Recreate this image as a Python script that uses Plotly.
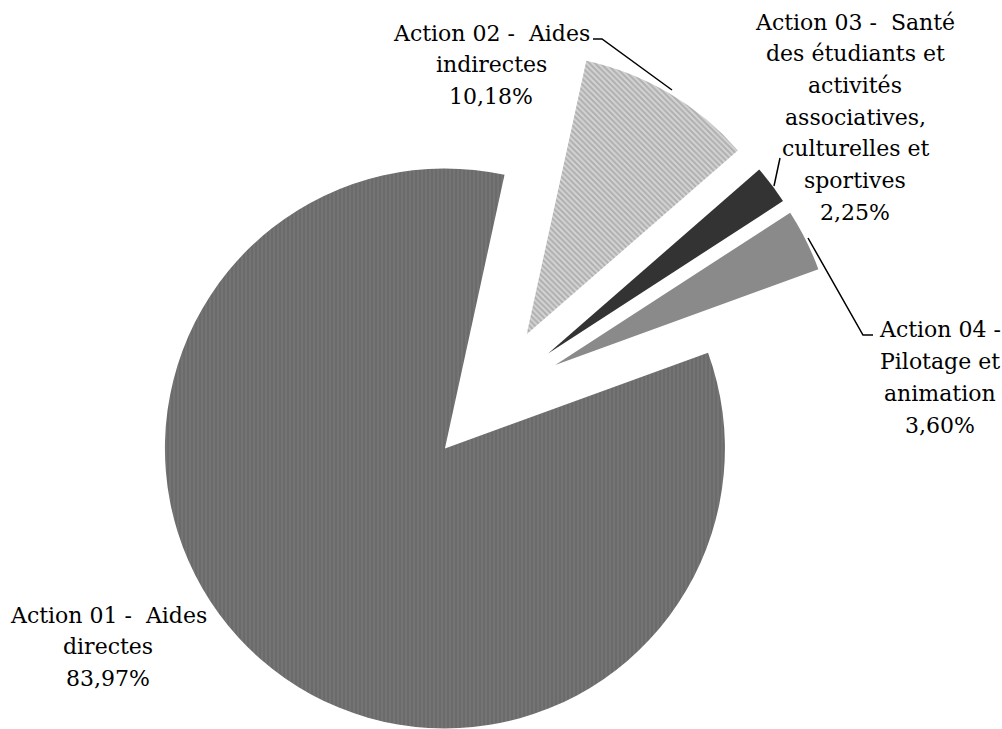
import math
import plotly.graph_objects as go

# Budget split of the programme by action (percent)
actions = [
    "Action 01 - Aides directes",
    "Action 02 - Aides indirectes",
    "Action 03 - Santé des étudiants et activités associatives, culturelles et sportives",
    "Action 04 - Pilotage et animation",
]
shares = [83.97, 10.18, 2.25, 3.60]

# Wrapped label lines shown next to each slice
label_lines = [
    ["Action 01 - \u00a0Aides", "directes"],
    ["Action 02 - \u00a0Aides", "indirectes"],
    ["Action 03 - \u00a0Santé", "des étudiants et", "activités", "associatives,", "culturelles et", "sportives"],
    ["Action 04 -", "Pilotage et", "animation"],
]

W, H = 1002, 729
FONT = "DejaVu Serif"
FONT_SIZE = 22
LINE_STEP = 31.7

# Slice styling
fills = ["#6b6b6b", "#d4d4d4", "#333333", "#8a8a8a"]
pattern_shapes = ["|", "\\", "", ""]
pattern_fg = ["#838383", "#8a8a8a", "#333333", "#8a8a8a"]
pattern_solidity = [0.35, 0.5, 0.3, 0.3]

# Pie geometry in pixels: common centre, radius, start angle, explosion per slice
cx, cy = 489, 398
radius = 280
rotation = 70
explode = [67, 74, 74, 74]

total = sum(shares)
fig = go.Figure()
cum = 0.0
for i, v in enumerate(shares):
    mid = math.radians(rotation + 360.0 * (cum + v / 2) / total)
    cum += v
    ax = cx + explode[i] * math.sin(mid)
    ay = cy - explode[i] * math.cos(mid)
    x0, x1 = (ax - radius) / W, (ax + radius) / W
    y0, y1 = 1 - (ay + radius) / H, 1 - (ay - radius) / H
    y0 = max(0.0, y0)
    y1 = min(1.0, y1)
    colors = ["rgba(0,0,0,0)"] * len(shares)
    colors[i] = fills[i]
    shapes = [""] * len(shares)
    shapes[i] = pattern_shapes[i]
    fgs = ["rgba(0,0,0,0)"] * len(shares)
    fgs[i] = pattern_fg[i]
    fig.add_trace(go.Pie(
        labels=actions,
        values=shares,
        sort=False,
        direction="clockwise",
        rotation=rotation,
        textinfo="none",
        hoverinfo="label+percent",
        showlegend=False,
        domain=dict(x=[x0, x1], y=[y0, y1]),
        marker=dict(
            colors=colors,
            line=dict(width=0),
            pattern=dict(shape=shapes, fgcolor=fgs, bgcolor=colors,
                         size=4, solidity=pattern_solidity[i], fillmode="overlay"),
        ),
    ))

# Label blocks: horizontal centre and vertical centre of the first line (pixels)
label_pos = [(108, 615), (491, 33), (855, 22), (940, 330)]

def fmt(v):
    return f"{v:.2f}%".replace(".", ",")

annotations = []
for i, v in enumerate(shares):
    px, py = label_pos[i]
    for k, line in enumerate(label_lines[i] + [fmt(v)]):
        annotations.append(dict(
            x=px / W, y=1 - (py + k * LINE_STEP) / H, xref="paper", yref="paper",
            text=line, showarrow=False, align="center",
            xanchor="center", yanchor="middle",
            font=dict(family=FONT, size=FONT_SIZE, color="#000000"),
        ))

# Leader lines from labels to slices (pixel polylines)
leaders = [
    [(593, 39), (602, 39), (672, 90)],
    [(780, 158), (774, 186)],
    [(808, 238), (863, 335), (873, 335)],
]
line_shapes = []
for pts in leaders:
    path = "M " + " L ".join(f"{x / W},{1 - y / H}" for x, y in pts)
    line_shapes.append(dict(type="path", path=path, xref="paper", yref="paper",
                            line=dict(color="#000000", width=1.5)))

fig.update_layout(
    width=W, height=H,
    margin=dict(l=0, r=0, t=0, b=0),
    paper_bgcolor="white",
    plot_bgcolor="white",
    annotations=annotations,
    shapes=line_shapes,
)

fig.write_html("out.html")
